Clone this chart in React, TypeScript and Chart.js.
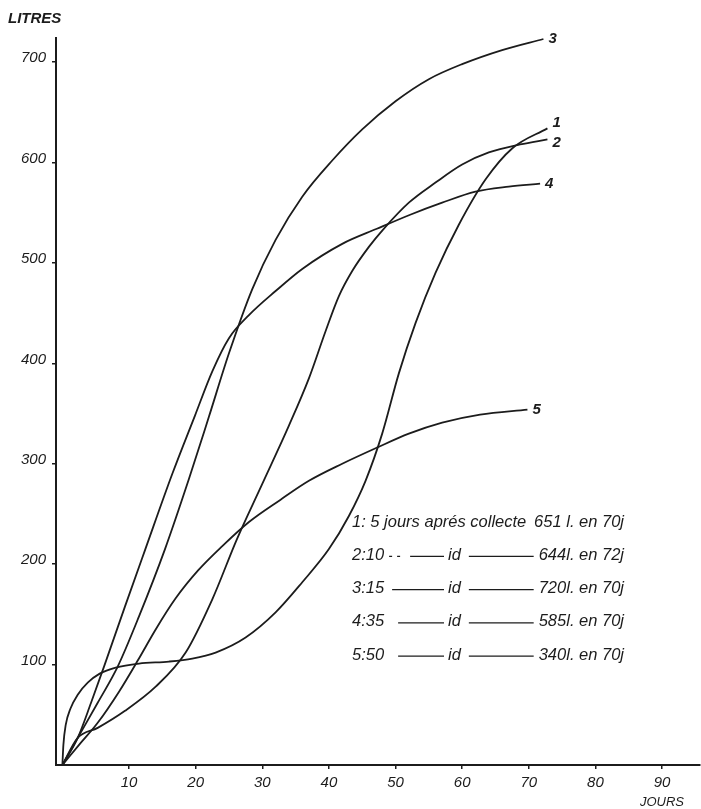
import React, { useEffect, useRef } from "react";
import { Chart, registerables } from "chart.js";

Chart.register(...registerables);

// ---- data ----
const X_TICKS = [10, 20, 30, 40, 50, 60, 70, 80, 90];
const Y_TICKS = [100, 200, 300, 400, 500, 600, 700];

const DAYS_1 = [0, 0.15, 0.5, 1.2, 2.3, 3.8, 5.6, 8, 11.5, 16, 19.5, 23, 27.5, 32, 36, 40, 43, 45.5, 48, 50.5, 53, 56, 59.5, 63.5, 67.5, 72.8];
const LITRES_1 = [0, 20, 40, 56, 70, 82, 91, 97, 101, 103, 106, 112, 127, 152, 182, 215, 248, 283, 330, 390, 440, 490, 538, 583, 614, 634];

const DAYS_2 = [0, 2.3, 5.3, 9.4, 14, 18.5, 22.5, 26.2, 30, 34, 37, 39.5, 41.5, 43.5, 46, 48.1, 52, 56, 60, 64, 68.7, 72.8];
const LITRES_2 = [0, 27, 37, 54, 78, 112, 165, 225, 280, 338, 385, 432, 467, 492, 516, 533, 560, 580, 598, 610, 618, 623];

const DAYS_3 = [0, 2.3, 5.3, 8.3, 11.5, 15.4, 19, 22, 25, 28.5, 32, 36, 40.5, 45, 50, 55, 60, 66, 72.2];
const LITRES_3 = [0, 27, 62, 98, 148, 215, 285, 347, 410, 474, 523, 566, 602, 633, 661, 683, 698, 712, 723];

const DAYS_4 = [0, 2.3, 4.3, 6.3, 9.4, 12.4, 16.5, 19.9, 22.5, 25, 28, 32, 36, 42, 47.2, 52.2, 57, 62, 67, 71.7];
const LITRES_4 = [0, 27, 62, 99, 158, 214, 290, 348, 392, 425, 448, 472, 494, 519, 534, 548, 560, 571, 576, 579];

const DAYS_5 = [0, 2.5, 5.3, 8.5, 11.4, 14, 17, 20.4, 24, 28, 32.7, 37, 42, 47.2, 52, 57, 62.7, 69.8];
const LITRES_5 = [0, 20, 42, 73, 105, 135, 166, 194, 218, 242, 264, 283, 300, 316, 330, 341, 349, 354];

const CURVE_LABELS = ["1", "2", "3", "4", "5"];
const LEGEND_KEYS = ["1:", "2:10", "3:15", "4:35", "5:50"];
const LEGEND_FIRST_TEXT = "5 jours aprés collecte";
const LEGEND_MIDDLE = "id";
const LEGEND_VALUES = ["651 l. en 70j", "644l. en 72j", "720l. en 70j", "585l. en 70j", "340l. en 70j"];

// ---- styles / layout ----
const INK = "#1c1c1c";
const FONT_FAMILY = '"Liberation Sans", "DejaVu Sans", sans-serif';
const X_MIN = -0.96;
const X_MAX = 95.7;
const Y_MIN = 0;
const Y_MAX = 724;
const END_LABEL_DY = [-6, 3, 0, 0, 0];

const pts = (xs: number[], ys: number[]) => xs.map((x, i) => ({ x, y: ys[i] }));

const annotationPlugin = {
  id: "annotations",
  afterDraw(chart: any) {
    const ctx = chart.ctx as CanvasRenderingContext2D;
    ctx.save();
    ctx.fillStyle = INK;
    ctx.strokeStyle = INK;
    ctx.textBaseline = "middle";

    // axis titles
    ctx.font = `italic bold 15px ${FONT_FAMILY}`;
    ctx.textAlign = "left";
    ctx.fillText("LITRES", 8, 19);
    ctx.font = `italic 13px ${FONT_FAMILY}`;
    ctx.textAlign = "center";
    ctx.fillText("JOURS", 662, 802);

    // curve end labels
    ctx.font = `italic bold 15px ${FONT_FAMILY}`;
    ctx.textAlign = "left";
    chart.data.datasets.forEach((_ds: any, i: number) => {
      const meta = chart.getDatasetMeta(i);
      const last = meta.data[meta.data.length - 1];
      if (!last) return;
      ctx.fillText(CURVE_LABELS[i], last.x + 5, last.y + END_LABEL_DY[i]);
    });

    // legend block
    const left = 352;
    const right = 624;
    const y0 = 522;
    const dy = 33.3;
    const idX = 452;
    ctx.font = `italic 16.5px ${FONT_FAMILY}`;
    ctx.lineWidth = 1.3;
    LEGEND_KEYS.forEach((key, i) => {
      const y = y0 + i * dy;
      ctx.textAlign = "left";
      if (i === 0) {
        ctx.fillText(`${key} ${LEGEND_FIRST_TEXT}`, left, y);
      } else {
        ctx.fillText(key, left, y);
        const keyEnd = left + ctx.measureText(key).width;
        let dashStart = keyEnd + 8;
        if (i === 1) {
          ctx.setLineDash([3, 5]);
          ctx.beginPath();
          ctx.moveTo(keyEnd + 5, y + 1);
          ctx.lineTo(keyEnd + 20, y + 1);
          ctx.stroke();
          ctx.setLineDash([]);
          dashStart = keyEnd + 26;
        }
        if (i === 3 || i === 4) dashStart = keyEnd + 14;
        ctx.beginPath();
        ctx.moveTo(dashStart, y + 1);
        ctx.lineTo(idX - 8, y + 1);
        ctx.stroke();
        ctx.fillText(LEGEND_MIDDLE, idX - 4, y);
        const idEnd = idX - 4 + ctx.measureText(LEGEND_MIDDLE).width;
        const valW = ctx.measureText(LEGEND_VALUES[i]).width;
        ctx.beginPath();
        ctx.moveTo(idEnd + 8, y + 1);
        ctx.lineTo(right - valW - 5, y + 1);
        ctx.stroke();
      }
      ctx.textAlign = "right";
      ctx.fillText(LEGEND_VALUES[i], right, y);
    });

    ctx.restore();
  },
};

export default function App() {
  const canvasRef = useRef<HTMLCanvasElement | null>(null);

  useEffect(() => {
    if (!canvasRef.current) return;
    const series = [
      pts(DAYS_1, LITRES_1),
      pts(DAYS_2, LITRES_2),
      pts(DAYS_3, LITRES_3),
      pts(DAYS_4, LITRES_4),
      pts(DAYS_5, LITRES_5),
    ];
    const tickFont = { family: FONT_FAMILY, size: 15, style: "italic" as const };
    const chart = new Chart(canvasRef.current, {
      type: "line",
      data: {
        datasets: series.map((data, i) => ({
          label: CURVE_LABELS[i],
          data,
          borderColor: INK,
          borderWidth: 1.8,
          pointRadius: 0,
          fill: false,
          cubicInterpolationMode: "monotone" as const,
        })),
      },
      options: {
        responsive: false,
        animation: false,
        events: [],
        layout: { padding: { top: 38, right: 1, left: 0, bottom: 0 } },
        plugins: {
          legend: { display: false },
          tooltip: { enabled: false },
          title: { display: false },
        },
        scales: {
          x: {
            type: "linear",
            min: X_MIN,
            max: X_MAX,
            afterBuildTicks: (axis: any) => {
              axis.ticks = X_TICKS.map((v) => ({ value: v }));
            },
            afterFit: (scale: any) => {
              scale.height = 44;
            },
            grid: { drawOnChartArea: false, drawTicks: true, tickLength: 4, color: INK, lineWidth: 1.5 },
            border: { display: true, color: INK, width: 2 },
            ticks: { font: tickFont, color: INK, padding: 5, maxRotation: 0, autoSkip: false },
          },
          y: {
            type: "linear",
            min: Y_MIN,
            max: Y_MAX,
            afterBuildTicks: (axis: any) => {
              axis.ticks = Y_TICKS.map((v) => ({ value: v }));
            },
            afterFit: (scale: any) => {
              scale.width = 56;
            },
            grid: { drawOnChartArea: false, drawTicks: true, tickLength: 4, color: INK, lineWidth: 1.5 },
            border: { display: true, color: INK, width: 2 },
            ticks: { font: tickFont, color: INK, padding: 6, labelOffset: -4, autoSkip: false },
          },
        },
      },
      plugins: [annotationPlugin],
    });
    return () => chart.destroy();
  }, []);

  return (
    <div style={{ position: "fixed", left: 0, top: 0, width: 701, height: 809, background: "#fff" }}>
      <canvas ref={canvasRef} width={701} height={809} style={{ display: "block" }} />
    </div>
  );
}
